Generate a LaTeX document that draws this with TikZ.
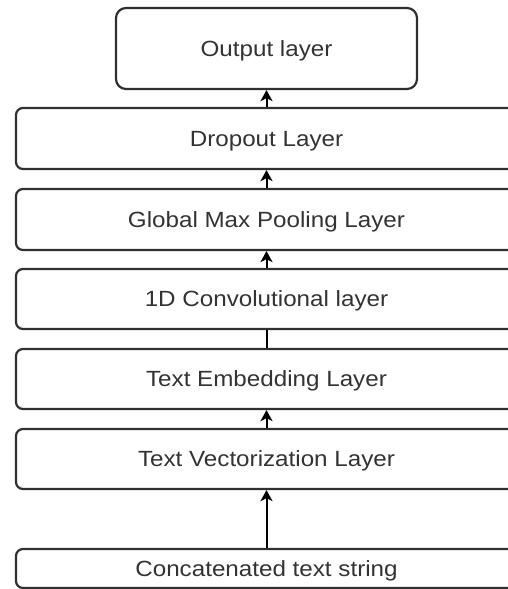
\documentclass[tikz,border=0pt]{standalone}
\usepackage{fontspec}
\setmainfont[FakeStretch=1.1]{Liberation Sans}
\usetikzlibrary{arrows.meta}
\definecolor{linegray}{HTML}{303030}
\definecolor{txtgray}{HTML}{333333}
\tikzset{
  layerbox/.style={draw=linegray, line width=2.2pt, rounded corners=7pt, fill=white,
    text=txtgray, font=\fontsize{22}{24}\selectfont, inner sep=0pt,
    text height=15.5pt, text depth=0pt},
  conn/.style={draw=black, line width=2pt},
  arr/.style={conn, -{Stealth[length=11pt,width=12pt,inset=3pt]}}
}
\begin{document}
\begin{tikzpicture}[x=1pt,y=1pt]
\clip (0,0) rectangle (508,-589);
\node[layerbox, rounded corners=10pt, minimum width=301pt, minimum height=81pt] (out) at (266.5,-48.5) {Output layer};
\node[layerbox, minimum width=501pt, minimum height=61pt] (drop) at (266.5,-138.5) {Dropout Layer};
\node[layerbox, minimum width=501pt, minimum height=61pt] (gmp) at (266.5,-219.5) {Global Max Pooling Layer};
\node[layerbox, minimum width=501pt, minimum height=60pt] (conv) at (266.5,-299) {1D Convolutional layer};
\node[layerbox, minimum width=501pt, minimum height=60pt] (emb) at (266.5,-379) {Text Embedding Layer};
\node[layerbox, minimum width=501pt, minimum height=60pt] (vec) at (266.5,-459) {Text Vectorization Layer};
\node[layerbox, minimum width=501pt, minimum height=39pt] (cat) at (266.5,-568.5) {Concatenated text string};
\draw[arr] (drop.north) -- (out.south);
\draw[arr] (gmp.north) -- (drop.south);
\draw[arr] (conv.north) -- (gmp.south);
\draw[conn] (emb.north) -- (conv.south);
\draw[arr] (vec.north) -- (emb.south);
\draw[arr] (cat.north) -- (vec.south);
\end{tikzpicture}
\end{document}
